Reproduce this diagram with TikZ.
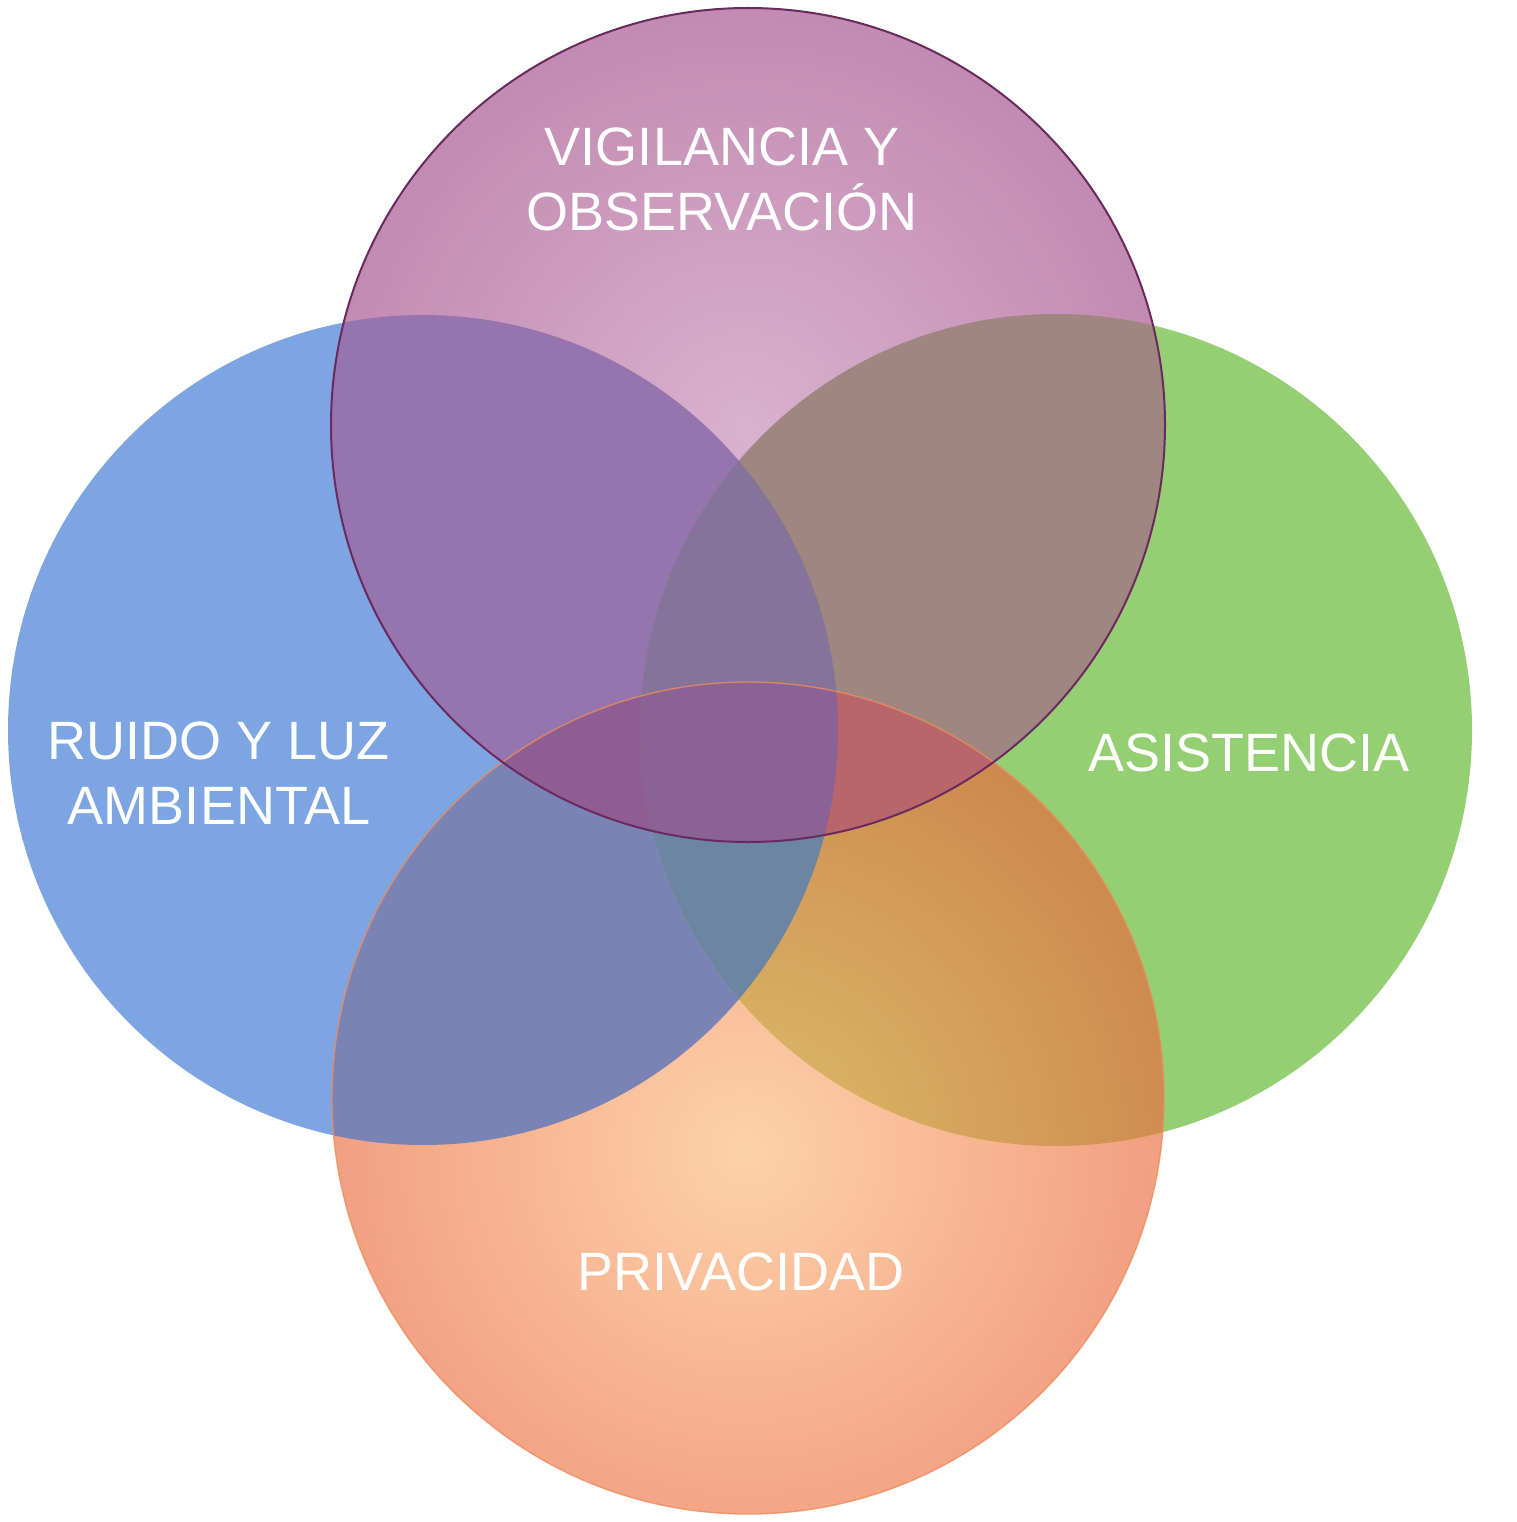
\documentclass[tikz,border=0pt]{standalone}
\usepackage{fontspec}
\setmainfont{Liberation Sans}
\definecolor{cBlue}{HTML}{7CA5E1}
\definecolor{cGreen}{HTML}{95CF73}
\definecolor{cPurpIn}{HTML}{D8B2CE}
\definecolor{cPurpOut}{HTML}{C288B2}
\definecolor{cOrIn}{HTML}{FDD2A8}
\definecolor{cOrOut}{HTML}{F1987C}
\definecolor{cBP}{HTML}{9674AF}
\definecolor{cGP}{HTML}{9F8680}
\definecolor{cBO}{HTML}{7A83B6}
\definecolor{cBG}{HTML}{6F86A4}
\definecolor{cGOIn}{HTML}{DDBC6A}
\definecolor{cGOOut}{HTML}{CC884C}
\definecolor{cBGP}{HTML}{857499}
\definecolor{cBGO}{HTML}{6C85A2}
\definecolor{cBPO}{HTML}{8E5E92}
\definecolor{cGPO}{HTML}{B8666A}
\definecolor{cAll}{HTML}{8A6394}
\definecolor{cPurpLine}{HTML}{6A2A60}
\definecolor{cOrLine}{HTML}{EC8C5E}
\def\cB{(423,730) circle[radius=415pt]}
\def\cG{(1056,730) circle[radius=416pt]}
\def\cP{(748,425) circle[radius=417pt]}
\def\cO{(748,1098) circle[radius=416pt]}
\tikzset{
  lbl/.style={text=white, align=center, inner sep=0pt, font=\fontsize{54}{65}\selectfont}
}
\begin{document}
\begin{tikzpicture}[x=1pt,y=-1pt]
\useasboundingbox (0,0) rectangle (1516,1522);
\fill[white] (0,0) rectangle (1516,1522);
% single circles
\fill[cBlue] \cB;
\fill[cGreen] \cG;
\begin{scope}
  \clip \cO;
  \shade[inner color=cOrIn, outer color=cOrOut] (745,1150) circle[radius=470pt];
\end{scope}
\begin{scope}
  \clip \cP;
  \shade[inner color=cPurpIn, outer color=cPurpOut] (745,430) circle[radius=440pt];
\end{scope}
% pairs
\begin{scope}\clip \cB; \fill[cBG] \cG; \end{scope}
\begin{scope}\clip \cB; \fill[cBP] \cP; \end{scope}
\begin{scope}\clip \cG; \fill[cGP] \cP; \end{scope}
\begin{scope}\clip \cB; \fill[cBO] \cO; \end{scope}
\begin{scope}\clip \cG; \clip \cO;
  \shade[inner color=cGOIn, outer color=cGOOut] (745,1150) circle[radius=470pt];
\end{scope}
% triples
\begin{scope}\clip \cB; \clip \cG; \fill[cBGP] \cP; \end{scope}
\begin{scope}\clip \cB; \clip \cG; \fill[cBGO] \cO; \end{scope}
\begin{scope}\clip \cB; \clip \cP; \fill[cBPO] \cO; \end{scope}
\begin{scope}\clip \cG; \clip \cP; \fill[cGPO] \cO; \end{scope}
% all four
\begin{scope}\clip \cB; \clip \cG; \clip \cP; \fill[cAll] \cO; \end{scope}
% outlines
\draw[cOrLine, line width=1.4pt, opacity=0.8] \cO;
\draw[cPurpLine, line width=2pt] \cP;
% labels
\node[lbl] (vig) at (722,179) {VIGILANCIA Y\\OBSERVACIÓN};
\node[lbl] (ruido) at (219,773) {RUIDO Y LUZ\\AMBIENTAL};
\node[lbl] (asis) at (1249,753) {ASISTENCIA};
\node[lbl] (priv) at (741,1272) {PRIVACIDAD};
\end{tikzpicture}
\end{document}
